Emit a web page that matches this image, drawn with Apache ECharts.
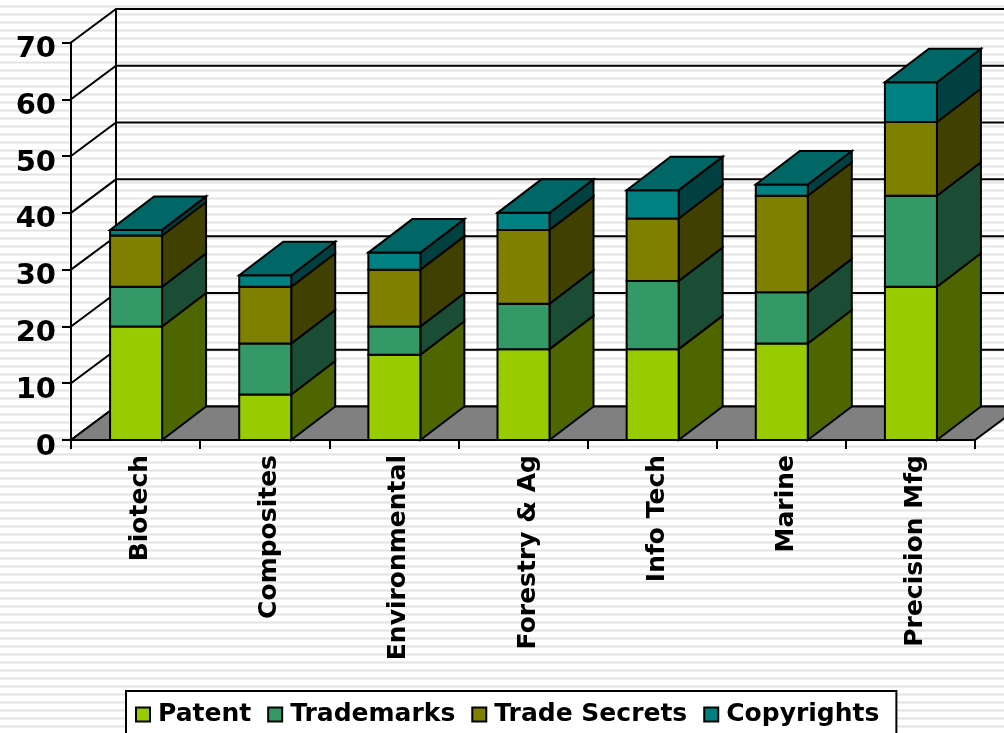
<!DOCTYPE html>
<html><head><meta charset="utf-8">
<style>html,body{margin:0;padding:0;overflow:hidden;background:#fff}#c{width:1004px;height:733px}</style>
<script src="https://cdn.jsdelivr.net/npm/echarts@6/dist/echarts.min.js"></script>
</head><body><div id="c"></div>
<script>
const categories = ['Biotech','Composites','Environmental','Forestry & Ag','Info Tech','Marine','Precision Mfg'];
const patent = [20,8,15,16,16,17,27];
const trademarks = [7,9,5,8,12,9,16];
const tradeSecrets = [9,10,10,13,11,17,13];
const copyrights = [1,2,3,3,5,2,7];
const yTicks = [0,10,20,30,40,50,60,70];
const seriesNames = ['Patent','Trademarks','Trade Secrets','Copyrights'];
const seriesValues = [patent,trademarks,tradeSecrets,copyrights];
const frontColors = ['#99CC00','#339966','#808000','#008080'];
const sideColors = ['#4D6600','#1A4D33','#404000','#004040'];
const topColors = ['#7AA300','#297A52','#666600','#006666'];
const DX = 45, DY = 33.5, BAR_DX = 44, BAR_RATIO = 52/129.14;
const FONT = '"DejaVu Sans", Verdana, sans-serif';

const pat = document.createElement('canvas');
pat.width = 8; pat.height = 8;
const g = pat.getContext('2d');
g.fillStyle = '#fff'; g.fillRect(0,0,8,8);
g.fillStyle = '#f0f0f0'; g.fillRect(0,5,8,1); g.fillRect(0,7,8,1);
g.fillStyle = '#e3e3e3'; g.fillRect(0,6,8,1);

const edge = {stroke:'#000', lineWidth:2, lineJoin:'miter'};
const poly = (pts, fill) => ({type:'polygon', shape:{points:pts}, style:{fill, ...edge}});

const stackBase = categories.map(() => 0);
const barSeries = seriesNames.map((name, s) => {
  const data = seriesValues[s].map((v, i) => {
    const d = [i, stackBase[i], stackBase[i] + v];
    stackBase[i] += v;
    return d;
  });
  return {
    name, type:'custom', z:3,
    itemStyle:{color:frontColors[s]},
    encode:{x:0, y:[1,2]},
    data,
    renderItem(params, api){
      const i = api.value(0);
      const a = api.coord([i, api.value(1)]);
      const b = api.coord([i, api.value(2)]);
      const w = api.size([1,0])[0] * BAR_RATIO;
      const l = a[0] - w/2 + 0.5, r = a[0] + w/2 + 0.5, y0 = a[1], y1 = b[1];
      const isTop = api.value(2) === stackBase[i];
      const children = [
        poly([[r,y0],[r+BAR_DX,y0-DY],[r+BAR_DX,y1-DY],[r,y1]], sideColors[s]),
        poly([[l,y0],[r,y0],[r,y1],[l,y1]], frontColors[s])
      ];
      if (isTop) children.push(poly([[l,y1],[r,y1],[r+BAR_DX,y1-DY],[l+BAR_DX,y1-DY]], topColors[s]));
      return {type:'group', children};
    }
  };
});

const floorSeries = {
  type:'custom', z:2, silent:true, encode:{y:0},
  data:[[0]],
  renderItem(params, api){
    const c = params.coordSys, b = c.y + c.height, r = c.x + c.width;
    return poly([[c.x,b],[r,b],[r+DX,b-DY],[c.x+DX,b-DY]], '#808080');
  }
};
const wallSeries = {
  type:'custom', z:1, silent:true, encode:{y:0},
  data:yTicks.map(t => [t]),
  renderItem(params, api){
    const c = params.coordSys, y = api.coord([0, api.value(0)])[1], r = c.x + c.width;
    const children = [{type:'polyline', shape:{points:[[c.x,y],[c.x+DX,y-DY],[r+DX,y-DY]]}, style:{fill:'none', ...edge}}];
    if (api.value(0) === yTicks[yTicks.length-1]) {
      children.push({type:'line', shape:{x1:c.x+DX,y1:y-DY,x2:c.x+DX,y2:c.y+c.height-DY}, style:{...edge}});
    }
    return {type:'group', children};
  }
};

const chart = echarts.init(document.getElementById('c'), null, {width:1004, height:733, renderer:'canvas'});
chart.setOption({
  animation:false,
  backgroundColor:{image:pat, repeat:'repeat'},
  grid:{left:71, right:29, top:42.5, bottom:293, containLabel:false},
  legend:{
    data:seriesNames, left:126, top:691,
    orient:'horizontal', selectedMode:false,
    icon:'rect', itemWidth:14, itemHeight:14, itemGap:16,
    itemStyle:{borderColor:'#000', borderWidth:2},
    backgroundColor:'#fff', borderColor:'#000', borderWidth:2, borderRadius:0,
    padding:[11,17,30,9],
    textStyle:{fontFamily:FONT, fontWeight:'bold', fontSize:25, color:'#000', padding:[0,0,0,3]}
  },
  xAxis:{
    type:'category', data:categories, z:10,
    axisLine:{lineStyle:{color:'#000', width:2}},
    axisTick:{show:true, alignWithLabel:false, length:9, lineStyle:{color:'#000', width:2}},
    axisLabel:{rotate:90, margin:15, interval:0, fontFamily:FONT, fontWeight:'bold', fontSize:25, color:'#000', verticalAlign:'top', lineHeight:10},
    splitLine:{show:false}
  },
  yAxis:{
    type:'value', min:0, max:70, interval:10, z:10,
    axisLine:{show:true, lineStyle:{color:'#000', width:2}},
    axisTick:{show:true, length:9, lineStyle:{color:'#000', width:2}},
    axisLabel:{margin:15, fontFamily:FONT, fontWeight:'bold', fontSize:29, color:'#000', verticalAlign:'top', lineHeight:14},
    splitLine:{show:false}
  },
  series:[wallSeries, floorSeries, ...barSeries]
});
</script></body></html>
